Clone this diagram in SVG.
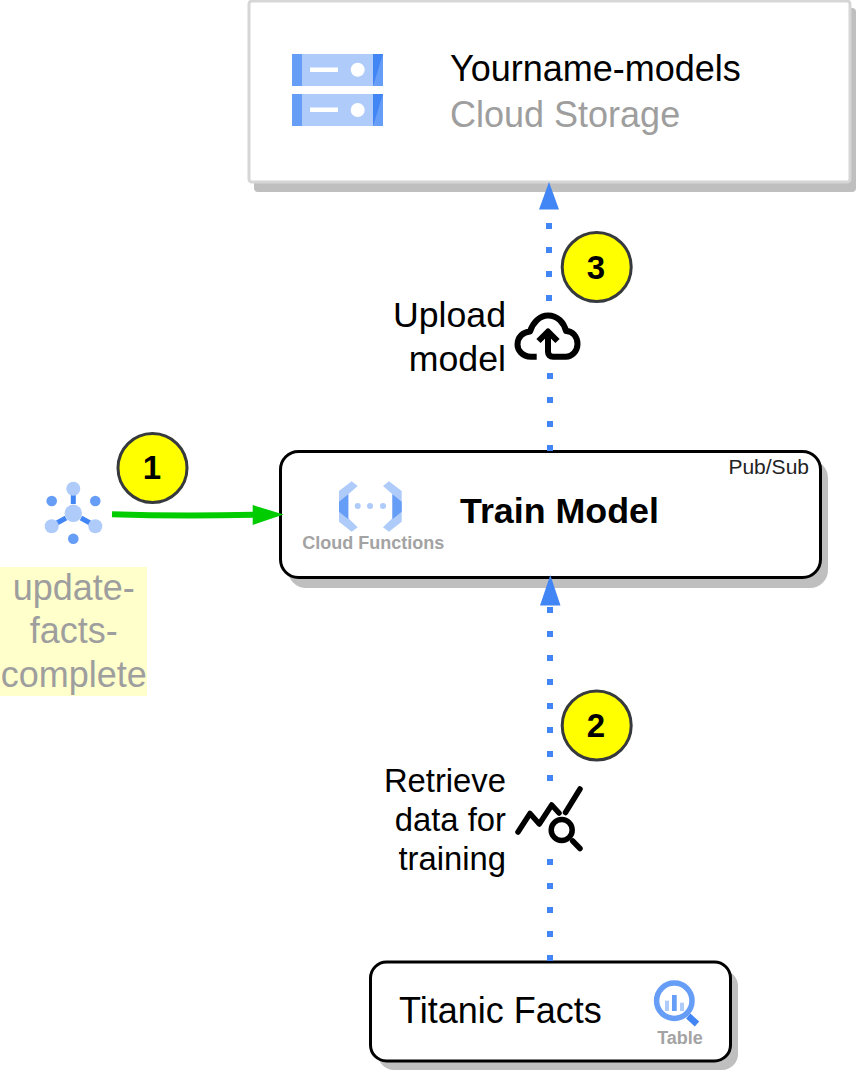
<svg xmlns="http://www.w3.org/2000/svg" width="858" height="1074" viewBox="0 0 858 1074">
<defs>
<style>
text{font-family:"Liberation Sans",Arial,sans-serif}
.t{font-size:36px;fill:#000}
.g{font-size:36px;fill:#9e9e9e}
.r{font-size:32.800px;fill:#000}
.e{text-anchor:end}
.m{text-anchor:middle}
.lab{font-size:18px;font-weight:bold;fill:#a3a3a3;text-anchor:middle}
.num{font-size:33px;font-weight:bold;fill:#000;text-anchor:middle}
.badge{fill:#ffff00;stroke:#36393d;stroke-width:3}
.box{fill:#fff;stroke:#000;stroke-width:3}
.sh{fill:#bfbfbf}
.l1{fill:#aecbfa}.l2{fill:#669df6}.l3{fill:#4285f4}
.dot{fill:none;stroke:#4285f4;stroke-width:6;stroke-dasharray:6 18}
.ic{fill:none;stroke:#000;stroke-width:5.500;stroke-linecap:round;stroke-linejoin:round}
</style>
</defs>

<g id="storage">
<rect class="sh" x="254" y="8" width="602" height="184" rx="4"/>
<rect x="249" y="1" width="601" height="181" rx="3" fill="#fff" stroke="#d6d6d6" stroke-width="3"/>
<g id="storage-icon">
<rect class="l1" x="292" y="54" width="91" height="32"/><rect class="l2" x="292" y="54" width="10" height="32"/><rect class="l2" x="373" y="54" width="10" height="32"/><path class="l3" d="M373 54H383L373 86Z"/>
<rect x="310" y="67.500" width="28" height="4.500" fill="#fff"/><circle cx="357.700" cy="69.700" r="7" fill="#fff"/>
<rect class="l1" x="292" y="94" width="91" height="32"/><rect class="l2" x="292" y="94" width="10" height="32"/><rect class="l2" x="373" y="94" width="10" height="32"/><path class="l3" d="M373 94H383L373 126Z"/>
<rect x="310" y="107.500" width="28" height="4.500" fill="#fff"/><circle cx="357.700" cy="110" r="7" fill="#fff"/>
</g>
<text class="t" x="450" y="81">Yourname-models</text>
<text class="g" x="450" y="126.500">Cloud Storage</text>
</g>

<g id="train">
<rect class="sh" x="288" y="460" width="540" height="128" rx="18"/>
<rect class="box" x="280.500" y="451.500" width="540" height="126" rx="18"/>
<text x="809" y="474" font-size="21" fill="#222" text-anchor="end">Pub/Sub</text>
<g id="functions-icon">
<path class="l1" d="M339 491L351.700 481.300L357.700 486L348.300 494.300V518.300L357.700 527.300L351.700 531.700L339 521.700Z"/>
<path class="l2" d="M339 501.700L348.300 494.300V519.300L339 511.700Z"/>
<path class="l1" d="M401.700 491L389 481.300L383 486L392.400 494.300V518.300L383 527.300L389 531.700L401.700 521.700Z"/>
<path class="l2" d="M401.700 501.700L392.400 494.300V519.300L401.700 511.700Z"/>
<circle class="l1" cx="357.700" cy="506" r="3"/><circle class="l1" cx="370" cy="506" r="3"/><circle class="l1" cx="383" cy="506" r="3"/>
</g>
<text class="lab" x="373.300" y="549">Cloud Functions</text>
<text x="460" y="522.500" font-size="35.800" font-weight="bold" fill="#000">Train Model</text>
</g>

<g id="titanic">
<rect class="sh" x="378" y="970" width="360" height="100" rx="16"/>
<rect class="box" x="370.500" y="962" width="360" height="99" rx="16"/>
<text class="t" x="399" y="1023">Titanic Facts</text>
<g id="table-icon">
<circle cx="674.300" cy="1000.700" r="17.700" fill="none" stroke="#669df6" stroke-width="5.500"/>
<rect class="l1" x="665" y="1000.700" width="4" height="10.300"/><rect class="l2" x="672" y="995" width="4.700" height="16"/><rect class="l1" x="680" y="1002.700" width="4" height="8.300"/>
<path d="M688.300 1016L697 1024" stroke="#4285f4" stroke-width="6.500" fill="none"/>
</g>
<text class="lab" x="680" y="1043.500">Table</text>
</g>

<g id="pubsub">
<rect x="0" y="567" width="147" height="129" fill="#ffffcc"/>
<g id="pubsub-icon">
<path d="M73.300 494V504M56 523.500L66 518M81 518L91 523.500" stroke="#4285f4" stroke-width="5" fill="none"/>
<circle class="l1" cx="73.300" cy="488.700" r="7"/><circle class="l1" cx="73.300" cy="513.300" r="8.700"/><circle class="l1" cx="51.700" cy="526.300" r="7"/><circle class="l1" cx="95.300" cy="526.300" r="7"/>
<circle class="l2" cx="51.700" cy="501" r="5.300"/><circle class="l2" cx="95.300" cy="501" r="5.300"/><circle class="l2" cx="73.300" cy="538.700" r="5.300"/>
</g>
<text class="g m" x="73.700" y="600">update-</text>
<text class="g m" x="73.700" y="643">facts-</text>
<text class="g m" x="73.700" y="687">complete</text>
</g>

<g id="connectors">
<path class="dot" d="M550 451V373M549 301V210"/>
<path d="M539 209.500L549 182L559 209.500Z" fill="#4285f4"/>
<path class="dot" d="M550 961V859M550 781V607"/>
<path d="M540 605.500L550.300 575L560.500 605.500Z" fill="#4285f4"/>
<path d="M112 514.300C160 516 205 516 254 514.800" fill="none" stroke="#00cc00" stroke-width="6"/>
<path d="M252.700 505L283.500 514.500L252.700 525Z" fill="#00cc00"/>
</g>

<g id="badge3"><circle class="badge" cx="596.700" cy="267" r="34.500"/><text class="num" x="596" y="279">3</text></g>
<g id="badge1"><circle class="badge" cx="152.500" cy="468" r="34.500"/><text class="num" x="152" y="479">1</text></g>
<g id="badge2"><circle class="badge" cx="596.700" cy="725.500" r="34.500"/><text class="num" x="596" y="737">2</text></g>

<g id="upload-label">
<text class="t e" x="506" y="327.300" style="font-size:35.700px">Upload</text>
<text class="t e" x="506" y="371.300" style="font-size:35.700px">model</text>
<path class="ic" style="stroke-width:6;stroke-linecap:butt" d="M536.700 356.700H531C522 356.700 517.500 350 517.500 344.500C517.500 337 523 332 530 331.500C533 322 540 315.500 548 315.500C558 315.500 564 323 566 331C573 331 577.500 337 577.500 344C577.500 351 572 356.700 566 356.700H553C550 356.700 548 355 548 352V332M538.500 341L548 331.500L557.500 341"/>
</g>

<g id="retrieve-label">
<text class="r e" x="506" y="792">Retrieve</text>
<text class="r e" x="506" y="831">data for</text>
<text class="r e" x="506" y="870">training</text>
<path class="ic" d="M518 832L530 813.500L539.300 824L551.700 805L559 813M565.500 812.500L580 789"/>
<circle class="ic" cx="561.700" cy="830" r="10.500"/>
<path class="ic" d="M572.700 841L580 848.500"/>
</g>
</svg>
